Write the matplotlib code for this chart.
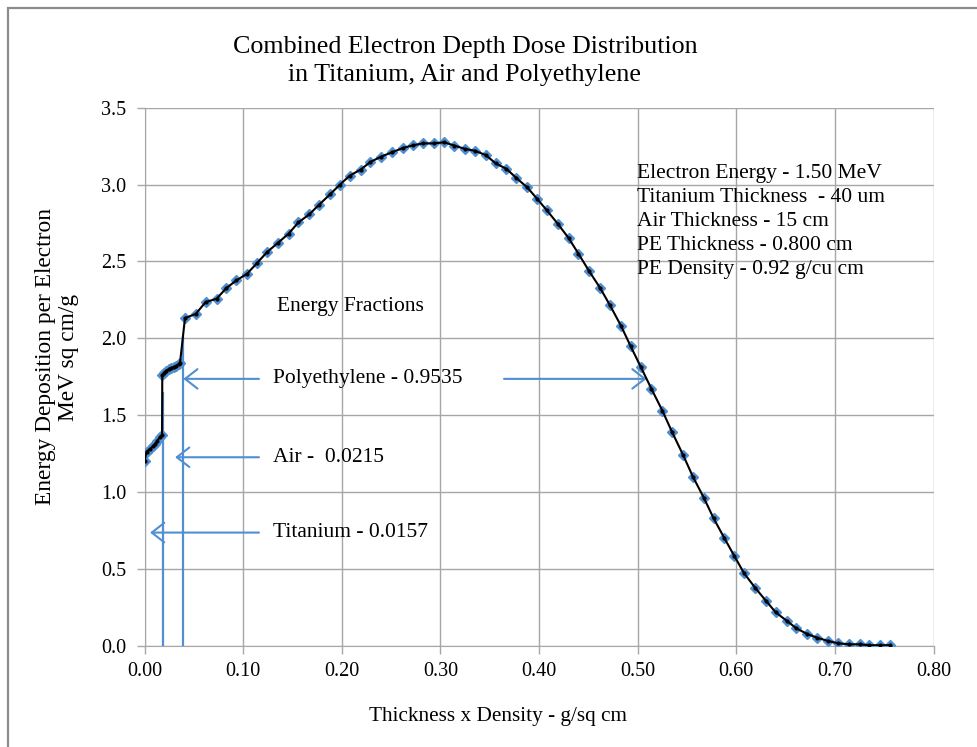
import matplotlib
matplotlib.use('Agg')
import matplotlib.pyplot as plt
from matplotlib.patches import Rectangle

plt.rcParams['font.family'] = ['Liberation Serif', 'DejaVu Serif']

# depth (g/sq cm) and energy deposition (MeV sq cm/g)
ti_x = [0.000, 0.002, 0.0056, 0.0083, 0.0106, 0.013, 0.0157, 0.0177]
ti_y = [1.200, 1.263, 1.281, 1.296, 1.311, 1.335, 1.357, 1.372]

air_x = [0.0180, 0.0200, 0.0220, 0.0245, 0.0270, 0.0295, 0.0320, 0.0345, 0.0360]
air_y = [1.762, 1.777, 1.790, 1.799, 1.806, 1.812, 1.821, 1.832, 1.842]

pe_x = [0.041, 0.052, 0.062, 0.073, 0.083, 0.093, 0.104, 0.114, 0.124, 0.135,
        0.146, 0.156, 0.167, 0.177, 0.188, 0.198, 0.208, 0.219, 0.229, 0.240,
        0.251, 0.262, 0.272, 0.282, 0.293, 0.304, 0.314, 0.325, 0.335, 0.346,
        0.356, 0.367, 0.377, 0.388, 0.398, 0.408, 0.419, 0.430, 0.440, 0.451,
        0.462, 0.472, 0.483, 0.493, 0.503, 0.514, 0.525, 0.535, 0.546, 0.556,
        0.567, 0.577, 0.588, 0.598, 0.608, 0.619, 0.630, 0.640, 0.651, 0.661,
        0.672, 0.682, 0.693, 0.703, 0.714, 0.725, 0.735, 0.746, 0.756]
pe_y = [2.131, 2.159, 2.236, 2.257, 2.327, 2.376, 2.420, 2.489, 2.559, 2.620,
        2.680, 2.754, 2.806, 2.869, 2.936, 2.999, 3.058, 3.097, 3.147, 3.182,
        3.210, 3.238, 3.255, 3.268, 3.268, 3.275, 3.254, 3.232, 3.220, 3.192,
        3.138, 3.102, 3.043, 2.982, 2.908, 2.832, 2.745, 2.652, 2.550, 2.435,
        2.327, 2.214, 2.083, 1.947, 1.816, 1.671, 1.530, 1.389, 1.242, 1.100,
        0.964, 0.829, 0.699, 0.584, 0.471, 0.378, 0.293, 0.217, 0.163, 0.113,
        0.076, 0.052, 0.031, 0.016, 0.009, 0.009, 0.003, 0.003, 0.003]

x = ti_x + air_x + pe_x
y = ti_y + air_y + pe_y

# layer boundaries marked by the vertical lines
bound_x = [0.0191, 0.0393]
bound_top = [1.643, 2.01]

fractions = [('Titanium - 0.0157', 0.736, 0.0056), ('Air -  0.0215', 1.226, 0.031),
             ('Polyethylene - 0.9535', 1.736, 0.0393)]

info = ('Electron Energy - 1.50 MeV\nTitanium Thickness  - 40 um\nAir Thickness - 15 cm\n'
        'PE Thickness - 0.800 cm\nPE Density - 0.92 g/cu cm')

blue = '#4F8FD2'
grid = '#A6A6A6'
arrow = dict(arrowstyle='->,head_length=0.45,head_width=0.35', color=blue, lw=1.5,
             mutation_scale=20, shrinkA=0, shrinkB=0)

fig = plt.figure(figsize=(9.78, 7.47), dpi=100)
fig.patches.append(Rectangle((8 / 978, -0.1), 1.2, 1.1 - 8 / 747, transform=fig.transFigure,
                             fill=False, edgecolor='#8C8C8C', lw=1.6))
ax = fig.add_axes([0.1478, 0.1356, 0.9545 - 0.1478, 0.8558 - 0.1356])

ax.plot(x, y, ls='none', marker='D', ms=5.5, color=blue, mec=blue, zorder=3)
ax.plot(x, y, color='black', lw=1.5, marker='o', ms=2, zorder=4)

for bx, bt in zip(bound_x, bound_top):
    ax.plot([bx, bx], [0, bt], color=blue, lw=1.6, zorder=2)

for label, ly, hx in fractions:
    ax.annotate('', xy=(hx, ly), xytext=(0.116, ly), arrowprops=arrow)
    ax.text(0.130, ly, label, fontsize=15.5, va='center', ha='left')

ax.annotate('', xy=(0.509, 1.736), xytext=(0.3645, 1.736), arrowprops=arrow)

ax.text(0.2086, 2.204, 'Energy Fractions', fontsize=15.5, ha='center', va='center')
ax.text(0.499, 2.76, info, fontsize=15.5, ha='left', va='center', linespacing=1.37)

ax.set_xlim(0, 0.8)
ax.set_ylim(0, 3.5)
ax.set_xticks([i / 10 for i in range(9)])
ax.set_xticklabels(['%.2f' % (i / 10) for i in range(9)])
ax.set_yticks([i / 2 for i in range(8)])
ax.set_yticklabels(['%.1f' % (i / 2) for i in range(8)])
ax.tick_params(labelsize=14.5, color=grid, length=6, width=1, direction='out')
ax.tick_params(axis='x', pad=6)
ax.tick_params(axis='y', pad=7)
ax.grid(True, color=grid, lw=1)
ax.set_axisbelow(True)
for s in ax.spines.values():
    s.set_color(grid)
ax.spines['top'].set_visible(False)
ax.spines['right'].set_visible(False)

fig.text(465 / 978, 1 - 61 / 747, 'Combined Electron Depth Dose Distribution\nin Titanium, Air and Polyethylene',
         fontsize=18.7, ha='center', va='center', linespacing=1.3)
fig.text(498 / 978, 1 - 717 / 747, 'Thickness x Density - g/sq cm', fontsize=15.3, ha='center', va='center')
fig.text(57 / 978, 1 - 357 / 747, 'Energy Deposition per Electron\nMeV sq cm/g', fontsize=16.8,
         ha='center', va='center', rotation=90, multialignment='center', linespacing=1.17)

fig.savefig('out.png', dpi=100)
